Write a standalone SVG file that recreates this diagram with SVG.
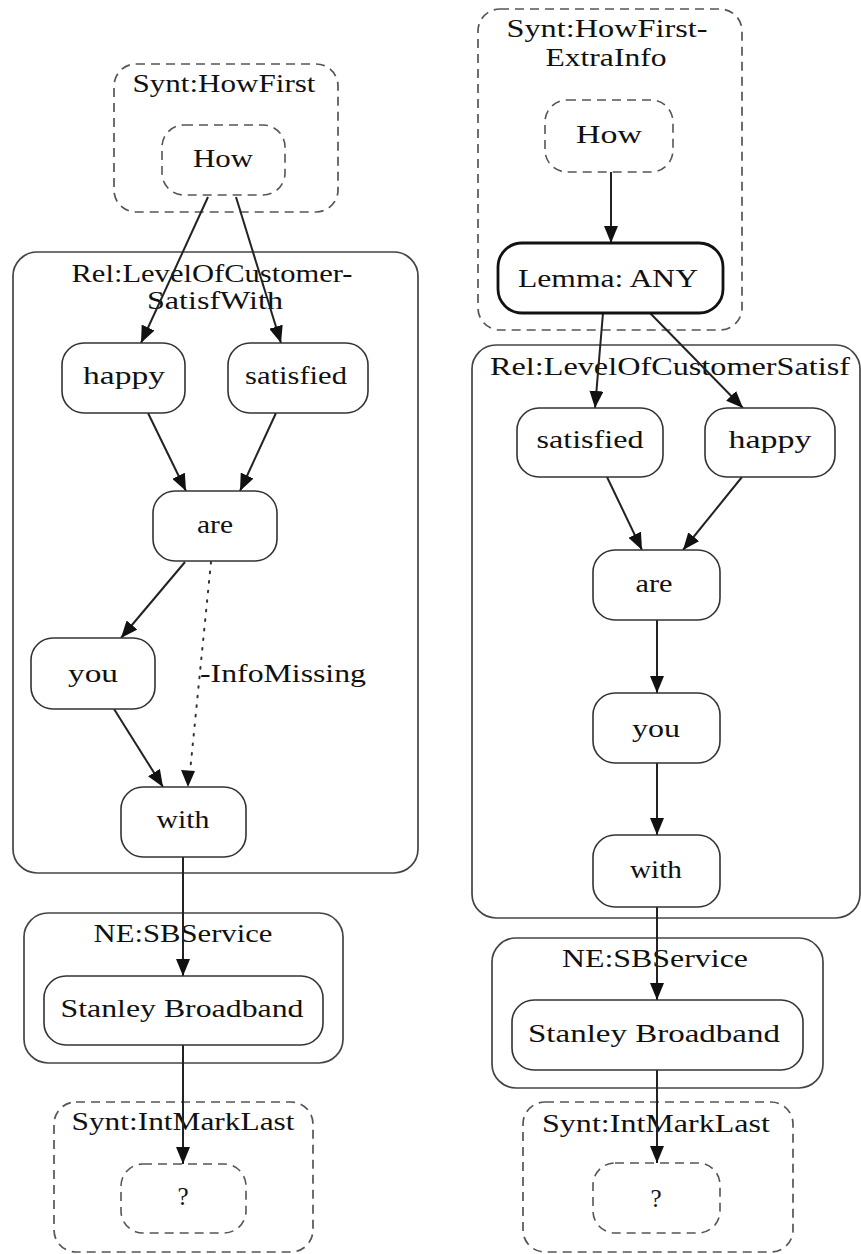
<svg xmlns="http://www.w3.org/2000/svg" width="861" height="1254" viewBox="0 0 861 1254">
  <style>
    .bg { fill: #ffffff; }
    .cl { fill: none; stroke: #444; stroke-width: 1.7; }
    .cl-d { fill: none; stroke: #555; stroke-width: 1.7; stroke-dasharray: 9 6; }
    .nd { fill: #ffffff; stroke: #333; stroke-width: 1.6; }
    .nd-d { fill: #ffffff; stroke: #555; stroke-width: 1.6; stroke-dasharray: 9 6; }
    .nd-b { fill: #ffffff; stroke: #111; stroke-width: 2.8; }
    .t { font-family: "Liberation Serif", "Times New Roman", serif; font-size: 25px; fill: #111; text-anchor: middle; }
    .tl { font-family: "Liberation Serif", "Times New Roman", serif; font-size: 25px; fill: #111; text-anchor: start; }
    .e { fill: none; stroke: #222; stroke-width: 2; }
    .e-dot { fill: none; stroke: #333; stroke-width: 2; stroke-dasharray: 1.6 8; stroke-linecap: round; }
  </style>
  <defs>
    <marker id="arr" markerUnits="userSpaceOnUse" markerWidth="17" markerHeight="14" viewBox="0 0 17 14" refX="17" refY="7" orient="auto">
      <path d="M0,0 L17,7 L0,14 Z" fill="#111"/>
    </marker>
  </defs>
  <rect class="bg" x="0" y="0" width="861" height="1254"/>

  <!-- left graph: clusters -->
  <g id="cl-howfirst">
    <rect class="cl-d" x="114" y="64" width="224" height="148" rx="22"/>
    <text class="t" x="224" y="92" textLength="183" lengthAdjust="spacingAndGlyphs">Synt:HowFirst</text>
  </g>
  <g id="cl-satisfwith">
    <rect class="cl" x="13" y="252" width="405" height="621" rx="24"/>
    <text class="t" x="212" y="282" textLength="281" lengthAdjust="spacingAndGlyphs">Rel:LevelOfCustomer-</text>
    <text class="t" x="215" y="309" textLength="136" lengthAdjust="spacingAndGlyphs">SatisfWith</text>
  </g>
  <g id="cl-sbservice-l">
    <rect class="cl" x="24" y="913" width="319" height="150" rx="24"/>
    <text class="t" x="183" y="942" textLength="179" lengthAdjust="spacingAndGlyphs">NE:SBService</text>
  </g>
  <g id="cl-intmark-l">
    <rect class="cl-d" x="54" y="1102" width="259" height="150" rx="22"/>
    <text class="t" x="183" y="1130" textLength="223" lengthAdjust="spacingAndGlyphs">Synt:IntMarkLast</text>
  </g>

  <!-- right graph: clusters -->
  <g id="cl-howfirst-extra">
    <rect class="cl-d" x="478" y="9" width="264" height="321" rx="22"/>
    <text class="t" x="607" y="37" textLength="201" lengthAdjust="spacingAndGlyphs">Synt:HowFirst-</text>
    <text class="t" x="606" y="66" textLength="121" lengthAdjust="spacingAndGlyphs">ExtraInfo</text>
  </g>
  <g id="cl-satisf">
    <rect class="cl" x="472" y="345" width="388" height="573" rx="24"/>
    <text class="t" x="670" y="375" textLength="360" lengthAdjust="spacingAndGlyphs">Rel:LevelOfCustomerSatisf</text>
  </g>
  <g id="cl-sbservice-r">
    <rect class="cl" x="492" y="938" width="331" height="150" rx="24"/>
    <text class="t" x="655" y="967" textLength="186" lengthAdjust="spacingAndGlyphs">NE:SBService</text>
  </g>
  <g id="cl-intmark-r">
    <rect class="cl-d" x="523" y="1102" width="270" height="150" rx="22"/>
    <text class="t" x="656" y="1132" textLength="228" lengthAdjust="spacingAndGlyphs">Synt:IntMarkLast</text>
  </g>

  <!-- connectors -->
  <g id="edges">
    <line class="e" x1="208" y1="197" x2="141" y2="343" marker-end="url(#arr)"/>
    <line class="e" x1="236" y1="197" x2="281" y2="343" marker-end="url(#arr)"/>
    <line class="e" x1="148" y1="413" x2="186" y2="491" marker-end="url(#arr)"/>
    <line class="e" x1="276" y1="413" x2="240" y2="491" marker-end="url(#arr)"/>
    <line class="e" x1="185" y1="562" x2="121" y2="638" marker-end="url(#arr)"/>
    <line class="e-dot" x1="211" y1="562" x2="190" y2="772"/>
    <path d="M181,770 L195,771 L188,787 Z" fill="#111"/>
    <line class="e" x1="114" y1="709" x2="163" y2="787" marker-end="url(#arr)"/>
    <line class="e" x1="183" y1="857" x2="183" y2="976" marker-end="url(#arr)"/>
    <line class="e" x1="183" y1="1045" x2="183" y2="1164" marker-end="url(#arr)"/>

    <line class="e" x1="611" y1="172" x2="611" y2="243" marker-end="url(#arr)"/>
    <line class="e" x1="603" y1="313" x2="595" y2="408" marker-end="url(#arr)"/>
    <line class="e" x1="650" y1="313" x2="743" y2="408" marker-end="url(#arr)"/>
    <line class="e" x1="607" y1="477" x2="642" y2="550" marker-end="url(#arr)"/>
    <line class="e" x1="742" y1="477" x2="683" y2="550" marker-end="url(#arr)"/>
    <line class="e" x1="657" y1="620" x2="657" y2="693" marker-end="url(#arr)"/>
    <line class="e" x1="657" y1="763" x2="657" y2="835" marker-end="url(#arr)"/>
    <line class="e" x1="657" y1="907" x2="657" y2="1000" marker-end="url(#arr)"/>
    <line class="e" x1="657" y1="1070" x2="657" y2="1163" marker-end="url(#arr)"/>
    <text class="tl" x="200" y="682" textLength="166" lengthAdjust="spacingAndGlyphs">-InfoMissing</text>
  </g>

  <!-- left graph: nodes -->
  <g id="n-how-l">
    <rect class="nd-d" x="162" y="125" width="123" height="70" rx="22"/>
    <text class="t" x="223" y="167" textLength="60" lengthAdjust="spacingAndGlyphs">How</text>
  </g>
  <g id="n-happy-l">
    <rect class="nd" x="62" y="343" width="123" height="70" rx="22"/>
    <text class="t" x="124" y="384" textLength="82" lengthAdjust="spacingAndGlyphs">happy</text>
  </g>
  <g id="n-satisfied-l">
    <rect class="nd" x="228" y="343" width="140" height="70" rx="22"/>
    <text class="t" x="296" y="384" textLength="102" lengthAdjust="spacingAndGlyphs">satisfied</text>
  </g>
  <g id="n-are-l">
    <rect class="nd" x="153" y="491" width="124" height="70" rx="22"/>
    <text class="t" x="215" y="533" textLength="36" lengthAdjust="spacingAndGlyphs">are</text>
  </g>
  <g id="n-you-l">
    <rect class="nd" x="31" y="638" width="124" height="71" rx="22"/>
    <text class="t" x="93" y="682" textLength="50" lengthAdjust="spacingAndGlyphs">you</text>
  </g>
  <g id="n-with-l">
    <rect class="nd" x="121" y="787" width="125" height="70" rx="22"/>
    <text class="t" x="183" y="828" textLength="53" lengthAdjust="spacingAndGlyphs">with</text>
  </g>
  <g id="n-stanley-l">
    <rect class="nd" x="44" y="976" width="279" height="69" rx="22"/>
    <text class="t" x="182" y="1017" textLength="243" lengthAdjust="spacingAndGlyphs">Stanley Broadband</text>
  </g>
  <g id="n-q-l">
    <rect class="nd-d" x="121" y="1164" width="125" height="69" rx="22"/>
    <text class="t" x="183" y="1205">?</text>
  </g>

  <!-- right graph: nodes -->
  <g id="n-how-r">
    <rect class="nd-d" x="545" y="100" width="128" height="72" rx="22"/>
    <text class="t" x="609" y="143" textLength="66" lengthAdjust="spacingAndGlyphs">How</text>
  </g>
  <g id="n-lemma-r">
    <rect class="nd-b" x="498" y="243" width="225" height="70" rx="24"/>
    <text class="t" x="608" y="287" textLength="180" lengthAdjust="spacingAndGlyphs">Lemma: ANY</text>
  </g>
  <g id="n-satisfied-r">
    <rect class="nd" x="517" y="408" width="146" height="69" rx="22"/>
    <text class="t" x="590" y="448" textLength="107" lengthAdjust="spacingAndGlyphs">satisfied</text>
  </g>
  <g id="n-happy-r">
    <rect class="nd" x="705" y="408" width="130" height="69" rx="22"/>
    <text class="t" x="770" y="448" textLength="83" lengthAdjust="spacingAndGlyphs">happy</text>
  </g>
  <g id="n-are-r">
    <rect class="nd" x="593" y="550" width="127" height="70" rx="22"/>
    <text class="t" x="654" y="592" textLength="37" lengthAdjust="spacingAndGlyphs">are</text>
  </g>
  <g id="n-you-r">
    <rect class="nd" x="593" y="693" width="127" height="70" rx="22"/>
    <text class="t" x="656" y="737" textLength="48" lengthAdjust="spacingAndGlyphs">you</text>
  </g>
  <g id="n-with-r">
    <rect class="nd" x="593" y="835" width="127" height="72" rx="22"/>
    <text class="t" x="656" y="878" textLength="52" lengthAdjust="spacingAndGlyphs">with</text>
  </g>
  <g id="n-stanley-r">
    <rect class="nd" x="512" y="1000" width="291" height="70" rx="22"/>
    <text class="t" x="654" y="1042" textLength="252" lengthAdjust="spacingAndGlyphs">Stanley Broadband</text>
  </g>
  <g id="n-q-r">
    <rect class="nd-d" x="593" y="1163" width="127" height="70" rx="22"/>
    <text class="t" x="656" y="1207">?</text>
  </g>
</svg>
